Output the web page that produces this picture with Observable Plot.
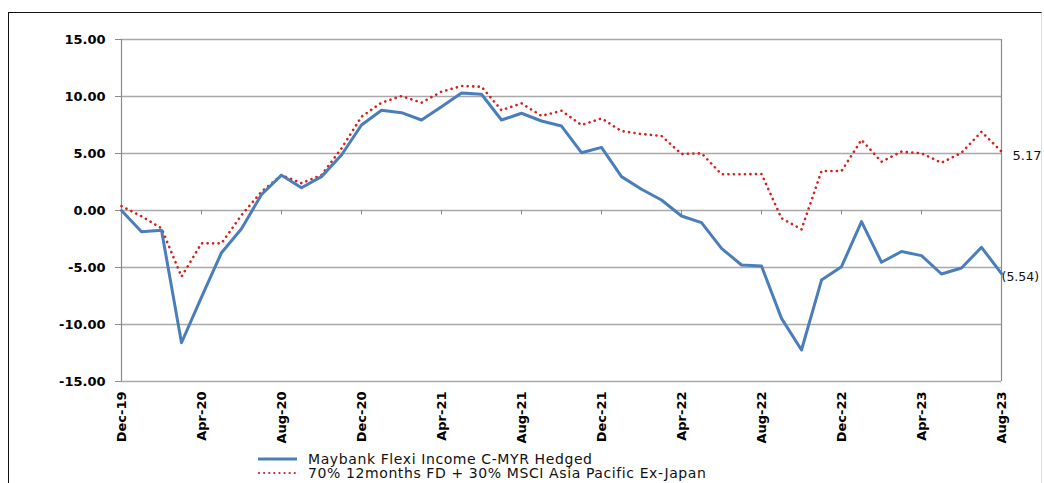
<!DOCTYPE html>
<html>
<head>
<meta charset="utf-8">
<script src="https://cdn.jsdelivr.net/npm/d3@7"></script>
<script src="https://cdn.jsdelivr.net/npm/@observablehq/plot@0.6"></script>
<style>
  html, body { margin: 0; padding: 0; background: #fff; }
  #wrap { position: relative; width: 1044px; height: 483px; overflow: hidden; font-family: "DejaVu Sans", sans-serif; }
  #frame { position: absolute; left: 8px; top: 12px; width: 1032px; height: 480px;
           border-top: 1.5px solid #111; border-left: 1.5px solid #111; border-right: 1px solid #ddd; }
  #chart { position: absolute; left: 0; top: 0; }
  #legend { position: absolute; left: 258px; top: 452px; font-size: 14px; letter-spacing: 0.6px; color: #111; line-height: 14px; }
  #legend .row { display: flex; align-items: center; height: 14px; white-space: nowrap; }
  #legend svg { margin-right: 10px; }
</style>
</head>
<body>
<div id="wrap">
  <div id="frame"></div>
  <div id="chart"></div>
  <div id="legend"></div>
</div>
<script>
const months = ["Dec-19","Jan-20","Feb-20","Mar-20","Apr-20","May-20","Jun-20","Jul-20","Aug-20","Sep-20","Oct-20","Nov-20",
  "Dec-20","Jan-21","Feb-21","Mar-21","Apr-21","May-21","Jun-21","Jul-21","Aug-21","Sep-21","Oct-21","Nov-21",
  "Dec-21","Jan-22","Feb-22","Mar-22","Apr-22","May-22","Jun-22","Jul-22","Aug-22","Sep-22","Oct-22","Nov-22",
  "Dec-22","Jan-23","Feb-23","Mar-23","Apr-23","May-23","Jun-23","Jul-23","Aug-23"];

const fund = [0.00,-1.86,-1.74,-11.60,-7.60,-3.70,-1.60,1.40,3.10,2.00,2.97,4.87,
  7.50,8.80,8.58,7.94,9.10,10.30,10.20,7.94,8.53,7.85,7.41,5.07,
  5.54,2.97,1.86,0.92,-0.48,-1.07,-3.32,-4.78,-4.87,-9.46,-12.24,-6.10,
  -4.93,-0.98,-4.54,-3.60,-3.96,-5.57,-5.04,-3.23,-5.54];

const bench = [0.39,-0.50,-1.56,-5.80,-2.88,-2.88,-0.40,1.65,3.10,2.40,3.11,5.45,
  8.23,9.46,10.04,9.46,10.42,10.92,10.86,8.80,9.40,8.30,8.75,7.50,
  8.08,6.97,6.71,6.54,4.96,5.02,3.18,3.18,3.20,-0.68,-1.65,3.46,
  3.46,6.20,4.28,5.16,5.02,4.19,5.07,6.91,5.17];

const xTickLabels = ["Dec-19","Apr-20","Aug-20","Dec-20","Apr-21","Aug-21","Dec-21","Apr-22","Aug-22","Dec-22","Apr-23","Aug-23"];
const yTicks = [-15,-10,-5,0,5,10,15];
const seriesNames = ["Maybank Flexi Income C-MYR Hedged","70% 12months FD + 30% MSCI Asia Pacific Ex-Japan"];

const blue = "#4a7ebb", red = "#d42020";
const xTickPos = xTickLabels.map(l => months.indexOf(l));
const last = months.length - 1;
const fmt = v => v < 0 ? `(${Math.abs(v).toFixed(2)})` : v.toFixed(2);

const plot = Plot.plot({
  width: 1044,
  height: 443,
  marginLeft: 121,
  marginRight: 43,
  marginTop: 39,
  marginBottom: 62,
  x: {domain: [0, last], axis: null},
  y: {domain: [-15, 15], axis: null},
  style: {fontFamily: "DejaVu Sans, sans-serif", background: "transparent", overflow: "visible"},
  marks: [
    Plot.ruleY(yTicks, {stroke: "#a9a9a9", strokeWidth: 1.5}),
    Plot.ruleX([0, last], {y1: -15, y2: 15, stroke: "#8a8a8a", strokeWidth: 1.2}),
    Plot.ruleX(xTickPos, {x: d => d, y1: 0, y2: -0.4, stroke: "#8a8a8a"}),
    Plot.axisY({ticks: yTicks, tickFormat: d => d.toFixed(2), tickSize: 6, tickPadding: 10,
      fontWeight: "bold", fontSize: 13, stroke: "#8a8a8a", fill: "#000"}),
    Plot.axisX({ticks: xTickPos, tickFormat: i => months[i], tickRotate: -90, tickSize: 0, tickPadding: 10,
      fontWeight: "bold", fontSize: 13, fill: "#000"}),
    Plot.lineY(bench, {x: (d, i) => i, y: d => d, stroke: red, strokeWidth: 2.6,
      strokeDasharray: "0.1,5.4", strokeLinecap: "round"}),
    Plot.lineY(fund, {x: (d, i) => i, y: d => d, stroke: blue, strokeWidth: 3}),
    Plot.text([last], {x: d => d, y: d => bench[d], text: d => fmt(bench[d]), dx: 11, dy: 4,
      textAnchor: "start", fontSize: 13, fill: "#111"}),
    Plot.text([last], {x: d => d, y: d => fund[d], text: d => fmt(fund[d]), dx: 0, dy: 3,
      textAnchor: "start", fontSize: 12.5, fill: "#111"})
  ]
});
document.getElementById("chart").appendChild(plot);

const legend = document.getElementById("legend");
legend.innerHTML = `
  <div class="row">
    <svg width="40" height="8"><line x1="0" x2="39" y1="4" y2="4" stroke="${blue}" stroke-width="3"/></svg>
    <span>${seriesNames[0]}</span>
  </div>
  <div class="row">
    <svg width="40" height="8"><line x1="1" x2="39" y1="4" y2="4" stroke="${red}" stroke-width="2.2" stroke-dasharray="0.1,5" stroke-linecap="round"/></svg>
    <span>${seriesNames[1]}</span>
  </div>`;
</script>
</body>
</html>
